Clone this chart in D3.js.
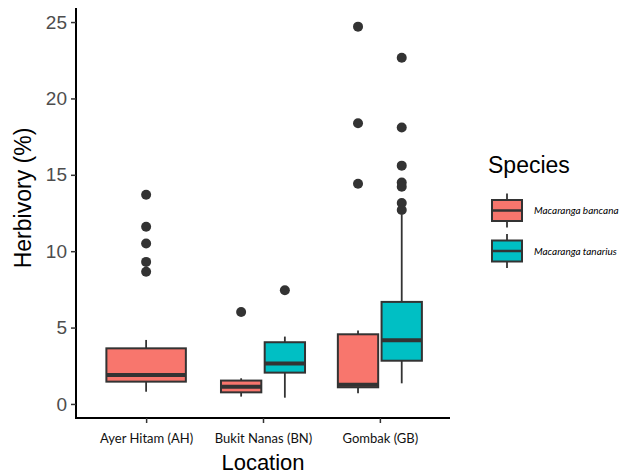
<!DOCTYPE html>
<html>
<head>
<meta charset="utf-8">
<script src="https://cdn.jsdelivr.net/npm/d3@7"></script>
<style>
  body { margin: 0; background: #fff; }
  svg { display: block; }
</style>
</head>
<body>
<svg id="chart" width="621" height="476"></svg>
<script>
// datos
const locations = ["Ayer Hitam (AH)", "Bukit Nanas (BN)", "Gombak (GB)"];
const species = ["Macaranga bancana", "Macaranga tanarius"];
const yTicks = [0, 5, 10, 15, 20, 25];

// una caja por combinacion presente
const boxLocation = ["Ayer Hitam (AH)", "Bukit Nanas (BN)", "Bukit Nanas (BN)", "Gombak (GB)", "Gombak (GB)"];
const boxSpecies = ["Macaranga bancana", "Macaranga bancana", "Macaranga tanarius", "Macaranga bancana", "Macaranga tanarius"];
const whiskerLow = [0.80, 0.48, 0.41, 0.70, 1.35];
const q1 = [1.46, 0.76, 2.05, 1.09, 2.83];
const medians = [1.90, 1.13, 2.64, 1.26, 4.17];
const q3 = [3.64, 1.53, 4.04, 4.56, 6.68];
const whiskerHigh = [4.19, 1.68, 4.41, 4.80, 12.4];
const outliers = [
  [13.7, 11.6, 10.5, 9.3, 8.65],
  [6.02],
  [7.44],
  [24.7, 18.37, 14.42],
  [22.66, 18.1, 15.6, 14.5, 14.22, 13.15, 12.7]
];

const colors = ["#F8766D", "#00BFC4"];
const lineCol = "#333333";

const svg = d3.select("#chart");
const panel = { left: 76, right: 450, top: 8, bottom: 418 };

const x = d3.scalePoint().domain(locations).range([panel.left, panel.right]).padding(0.6);
const y = d3.scaleLinear().domain([-0.92, 25.92]).range([panel.bottom, panel.top]);
const color = d3.scaleOrdinal().domain(species).range(colors);
const step = x.step();

const boxes = boxLocation.map((loc, i) => {
  const n = boxSpecies.filter((s, j) => boxLocation[j] === loc).length;
  const k = boxSpecies.filter((s, j) => boxLocation[j] === loc && j < i).length;
  const w = n === 1 ? 0.68 * step : 0.345 * step;
  const cx = n === 1 ? x(loc) : x(loc) + (k === 0 ? -1 : 1) * 0.187 * step;
  return { loc, sp: boxSpecies[i], cx, w, lo: whiskerLow[i], q1: q1[i], med: medians[i], q3: q3[i], hi: whiskerHigh[i], out: outliers[i] };
});

const g = svg.append("g");

// bigotes
g.selectAll(".whisker-up").data(boxes).enter().append("line")
  .attr("x1", d => d.cx).attr("x2", d => d.cx)
  .attr("y1", d => y(d.q3)).attr("y2", d => y(d.hi))
  .attr("stroke", lineCol).attr("stroke-width", 1.8);
g.selectAll(".whisker-down").data(boxes).enter().append("line")
  .attr("x1", d => d.cx).attr("x2", d => d.cx)
  .attr("y1", d => y(d.q1)).attr("y2", d => y(d.lo))
  .attr("stroke", lineCol).attr("stroke-width", 1.8);

// cajas
g.selectAll(".box").data(boxes).enter().append("rect")
  .attr("x", d => d.cx - d.w / 2)
  .attr("width", d => d.w)
  .attr("y", d => y(d.q3))
  .attr("height", d => y(d.q1) - y(d.q3))
  .attr("fill", d => color(d.sp))
  .attr("stroke", lineCol).attr("stroke-width", 2);

// medianas
g.selectAll(".median").data(boxes).enter().append("line")
  .attr("x1", d => d.cx - d.w / 2).attr("x2", d => d.cx + d.w / 2)
  .attr("y1", d => y(d.med)).attr("y2", d => y(d.med))
  .attr("stroke", lineCol).attr("stroke-width", 4);

// puntos atipicos
boxes.forEach(b => {
  g.selectAll(null).data(b.out).enter().append("circle")
    .attr("cx", b.cx).attr("cy", v => y(v)).attr("r", 5)
    .attr("fill", lineCol);
});

// ejes
const yAxis = svg.append("g")
  .attr("transform", `translate(${panel.left},0)`)
  .call(d3.axisLeft(y).tickValues(yTicks).tickSize(5).tickPadding(4));
yAxis.select(".domain").attr("stroke", "#000").attr("stroke-width", 2)
  .attr("d", `M0,${panel.top}V${panel.bottom}`);
yAxis.selectAll(".tick line").attr("stroke", "#333").attr("stroke-width", 1.5);
yAxis.selectAll(".tick text").attr("fill", "#4D4D4D")
  .attr("font-family", "Liberation Sans, Arial, sans-serif").attr("font-size", 19);

const xAxis = svg.append("g")
  .attr("transform", `translate(0,${panel.bottom})`)
  .call(d3.axisBottom(x).tickSize(5).tickPadding(11));
xAxis.select(".domain").attr("stroke", "#000").attr("stroke-width", 2)
  .attr("d", `M${panel.left - 1},0H${panel.right}`);
xAxis.selectAll(".tick line").attr("stroke", "#333").attr("stroke-width", 1.5);
xAxis.selectAll(".tick text").attr("fill", "#111")
  .attr("font-family", "Lato, sans-serif").attr("font-size", 13);

// titulos
svg.append("text")
  .attr("transform", `translate(31,198) rotate(-90)`)
  .attr("text-anchor", "middle")
  .attr("font-family", "Liberation Sans, Arial, sans-serif")
  .attr("font-size", 23)
  .text("Herbivory (%)");

svg.append("text")
  .attr("x", x("Bukit Nanas (BN)")).attr("y", 470)
  .attr("text-anchor", "middle")
  .attr("font-family", "Liberation Sans, Arial, sans-serif")
  .attr("font-size", 22)
  .text("Location");

// leyenda
const legend = svg.append("g").attr("transform", "translate(488,0)");
legend.append("text")
  .attr("x", 0).attr("y", 173)
  .attr("font-family", "Liberation Sans, Arial, sans-serif")
  .attr("font-size", 23)
  .text("Species");

const keyY = d3.scalePoint().domain(species).range([210.5, 251]);
const keys = legend.selectAll(".key").data(species).enter().append("g")
  .attr("transform", d => `translate(19,${keyY(d)})`);
keys.append("line").attr("x1", 0).attr("x2", 0).attr("y1", -17).attr("y2", 17)
  .attr("stroke", lineCol).attr("stroke-width", 1.8);
keys.append("rect").attr("x", -15).attr("y", -10.5).attr("width", 30).attr("height", 21)
  .attr("fill", d => color(d)).attr("stroke", lineCol).attr("stroke-width", 2);
keys.append("line").attr("x1", -15).attr("x2", 15).attr("y1", 0).attr("y2", 0)
  .attr("stroke", lineCol).attr("stroke-width", 2.5);
keys.append("text")
  .attr("x", 27).attr("y", 0).attr("dy", "0.35em")
  .attr("font-family", "Lato, sans-serif")
  .attr("font-style", "italic")
  .attr("font-size", 10)
  .text(d => d);
</script>
</body>
</html>
